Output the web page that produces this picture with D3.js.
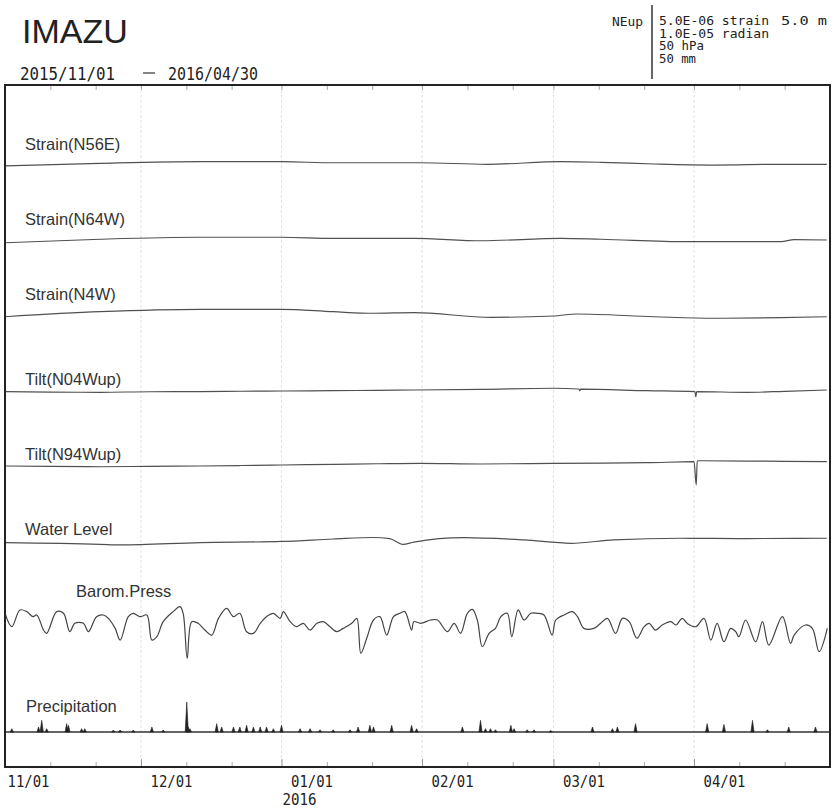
<!DOCTYPE html>
<html>
<head>
<meta charset="utf-8">
<script src="https://cdn.jsdelivr.net/npm/d3@7"></script>
<style>
  html, body { margin: 0; padding: 0; background: #fff; }
  svg { display: block; }
</style>
</head>
<body>
<div id="chart"></div>
<script>
// ---------------- DATA ----------------
// day offsets are days since 2015-11-01
const stationName = "IMAZU";
const periodStart = "2015/11/01";
const periodEnd = "2016/04/30";
const scaleLabels = ["5.0E-06 strain", "1.0E-05 radian", "50 hPa", "50 mm"];
const waterScaleLabel = "5.0 m";
const monthLabels = ["11/01", "12/01", "01/01", "02/01", "03/01", "04/01"];
const yearLabel = "2016";

// Strain, units of 1e-7 strain
const n56eDays = [0, 21.0, 43.0, 61.1, 72.4, 91.5, 106.3, 122.7, 131.5, 143.2, 156.4, 171.2, 181.3];
const n56eVals = [-2.6, -0.9, 0.2, 0.2, -0.5, -0.5, -1.5, 0.2, -0.2, -1.3, -2.0, -1.5, -1.5];

const n64wDays = [0, 21.0, 43.0, 61.1, 72.4, 90.2, 105.0, 122.7, 131.5, 150.5, 171.2, 174.1, 181.3];
const n64wVals = [-1.8, 0.5, 1.8, 1.8, 1.1, 1.1, -0.5, 1.1, 0.5, -1.1, -1.1, 0.2, 0.0];

const n4wDays = [0, 21.0, 43.0, 61.1, 72.4, 81.2, 90.2, 107.2, 121.1, 126.2, 143.2, 156.4, 171.2, 181.3];
const n4wVals = [-1.8, 1.5, 3.1, 3.1, 1.5, 0.5, 0.9, -2.2, -1.3, 0.0, -1.8, -2.8, -2.4, -1.8];

// Tilt, units of 1e-7 radian
const tilt04Days = [0, 10, 21.0, 32, 43.0, 52, 61.1, 72.4, 82, 90.2, 105.0, 121.1, 126.6, 126.8, 127.0, 141.6, 152.2, 152.4, 152.6, 163.7, 172, 181.3];
const tilt04Vals = [-0.9, -1.5, -1.7, -1.0, -0.9, -0.3, 0.0, 0.4, 0.9, 1.3, 2.2, 3.6, 2.6, 0.5, 2.4, 0.4, -0.9, -7.5, -0.9, -1.7, -0.4, 1.3];

const tilt94Days = [0, 10, 21.0, 32, 43.0, 52, 61.1, 72.4, 82, 91.5, 105.0, 121.1, 141.6, 152.0, 152.5, 152.7, 153.3, 163.7, 172, 181.3];
const tilt94Vals = [-2.6, -3.2, -3.6, -3.0, -2.6, -2.0, -1.3, -0.4, 0.3, 0.9, 0.0, 0.9, 1.7, 3.0, -27.6, 3.9, 4.3, 3.9, 3.4, 3.0];

// Water level, metres
const waterDays = [0, 21.0, 25.4, 43.0, 61.1, 72.4, 81.2, 84.9, 87.8, 90.2, 101.3, 114.5, 124.9, 134.3, 149.1, 163.7, 181.3];
const waterVals = [-0.11, -0.22, -0.26, -0.11, -0.03, 0.13, 0.23, 0.16, -0.22, -0.07, 0.22, 0.07, -0.15, 0.07, 0.18, 0.16, 0.18];

// Barometric pressure, hPa
const baromDays = [0, 1.5, 3.3, 4.8, 6.2, 7.0, 8.5, 9.2, 11.4, 12.9, 14.3, 15.4, 17.3, 18.4, 20.2, 21.7, 22.8, 24.3, 25.4, 27.2,
  28.3, 29.8, 31.3, 32.4, 33.5, 34.9, 37.1, 38.6, 39.3, 40.2, 41.2, 42.6, 44.1, 45.6, 47.1, 48.9, 50.4, 51.8, 53.3, 54.8,
  56.3, 57.7, 59.2, 60.7, 61.4, 62.9, 64.3, 65.8, 67.3, 68.8, 70.2, 71.7, 73.2, 74.6, 76.5, 77.6, 78.5, 79.8, 81.3, 82.7,
  84.2, 85.7, 87.1, 88.2, 89.7, 90.2, 91.7, 93.9, 95.4, 97.6, 99.1, 100.5, 102.0, 103.1, 104.2, 105.3, 106.8, 108.2, 109.4, 110.8,
  111.8, 113.2, 114.5, 116.0, 117.4, 118.9, 120.7, 121.5, 123.3, 125.2, 126.3, 127.7, 129.9, 131.4, 132.9, 134.7, 136.2, 137.7, 139.4, 141.0,
  142.1, 143.5, 145.0, 146.9, 148.0, 149.4, 150.5, 152.4, 154.2, 155.7, 157.1, 158.6, 160.1, 161.2, 161.9, 163.4, 165.6, 167.1, 168.5, 171.5,
  173.3, 174.1, 176.6, 178.1, 179.6, 181.4];
const baromVals = [1019.4, 1010.6, 1021.6, 1020.5, 1017.2, 1018.3, 1008.4, 1006.2, 1020.5, 1019.4, 1007.3, 1012.8, 1012.8, 1007.3, 1017.2, 1018.3, 1016.1, 1009.5, 1001.8, 1017.2,
  1019.4, 1017.2, 1018.3, 1001.8, 1004.0, 1013.9, 1020.5, 1023.8, 1019.4, 989.8, 1013.9, 1012.8, 1008.4, 1005.1, 1016.1, 1022.7, 1017.2, 1019.4, 1007.3, 1006.2,
  1012.8, 1017.2, 1019.4, 1016.1, 1020.5, 1013.9, 1010.6, 1012.8, 1008.4, 1012.8, 1013.9, 1010.6, 1007.3, 1009.5, 1012.8, 1016.1, 993.1, 1003.0, 1015.0, 1017.2,
  1005.1, 1017.2, 1019.4, 1020.5, 1008.4, 1013.9, 1012.8, 1015.0, 1015.0, 1007.3, 1012.8, 1006.2, 1019.4, 1022.0, 1015.0, 997.4, 1006.2, 1009.5, 1017.2, 1019.4,
  1004.0, 1021.6, 1015.0, 1019.4, 1019.4, 1018.3, 1005.1, 1015.0, 1018.3, 1020.5, 1017.2, 1009.5, 1009.5, 1012.8, 1016.1, 1006.2, 1016.1, 1013.9, 1003.0, 1010.6,
  1012.8, 1008.4, 1011.7, 1013.9, 1011.7, 1016.1, 1012.8, 1010.6, 1016.1, 1001.8, 1012.8, 1000.7, 1009.5, 1007.3, 1004.0, 1015.0, 1000.7, 1013.9, 998.5, 1017.2,
  999.6, 1005.1, 1011.7, 1009.5, 994.2, 1009.5];

// Precipitation, mm
const precipDays = [1.5, 7.4, 8.1, 9.2, 13.6, 14.0, 16.9, 17.6, 23.9, 25.4, 28.3, 32.4, 34.9, 40.1, 40.4, 40.8, 46.7, 47.8, 50.4, 51.8,
  53.3, 54.8, 56.3, 57.7, 59.2, 61.0, 65.1, 67.3, 69.5, 72.4, 76.1, 77.9, 80.5, 81.3, 85.3, 89.7, 90.8, 100.9, 104.9, 106.0,
  107.1, 108.2, 111.6, 112.3, 115.2, 116.7, 120.4, 129.6, 134.0, 135.1, 139.1, 154.9, 158.6, 164.9, 168.2, 172.9, 178.8];
const precipVals = [2.2, 3.3, 7.7, 2.2, 5.5, 4.4, 2.2, 2.2, 1.3, 1.3, 1.3, 3.3, 1.3, 19.7, 3.3, 2.2, 5.5, 3.3, 3.3, 3.3,
  4.4, 3.3, 3.3, 3.3, 2.2, 4.4, 2.2, 2.2, 1.5, 1.5, 1.5, 3.3, 4.4, 3.3, 4.4, 4.4, 2.2, 3.3, 7.7, 2.2,
  2.2, 1.5, 4.4, 2.2, 1.5, 1.5, 1.0, 3.3, 2.2, 3.3, 5.5, 5.5, 5.0, 7.7, 1.5, 3.3, 3.3];

// ---------------- LAYOUT ----------------
const W = 834, H = 808;
const frame = { x0: 5, x1: 830, y0: 85, y1: 767 };
const startDate = new Date(2015, 10, 1);
const endDate = new Date(2016, 4, 1);
const toDate = d => new Date(startDate.getTime() + d * 86400000);
const zip = (a, b) => a.map((d, i) => [d, b[i]]);

const tracks = [
  { label: "Strain(N56E)", data: zip(n56eDays, n56eVals), domain: [-25, 25], zeroY: 162, labelY: 150, labelX: 25 },
  { label: "Strain(N64W)", data: zip(n64wDays, n64wVals), domain: [-25, 25], zeroY: 240, labelY: 225, labelX: 25 },
  { label: "Strain(N4W)", data: zip(n4wDays, n4wVals), domain: [-25, 25], zeroY: 314, labelY: 300, labelX: 25 },
  { label: "Tilt(N04Wup)", data: zip(tilt04Days, tilt04Vals), domain: [-50, 50], zeroY: 391, labelY: 385, labelX: 25 },
  { label: "Tilt(N94Wup)", data: zip(tilt94Days, tilt94Vals), domain: [-50, 50], zeroY: 464, labelY: 460, labelX: 25 },
  { label: "Water Level", data: zip(waterDays, waterVals), domain: [-2.5, 2.5], zeroY: 541, labelY: 535, labelX: 25 }
];
const trackHalf = 38;

const svg = d3.select("#chart").append("svg").attr("width", W).attr("height", H)
  .style("font-family", "'Liberation Sans', Arial, sans-serif");

const x = d3.scaleTime().domain([startDate, endDate]).range([frame.x0, frame.x1]);

// month grid lines (faint)
const monthTicks = d3.timeMonth.range(startDate, d3.timeDay.offset(endDate, -1));
svg.append("g").selectAll("line").data(monthTicks.slice(1)).join("line")
  .attr("x1", d => x(d)).attr("x2", d => x(d))
  .attr("y1", frame.y0).attr("y2", frame.y1)
  .attr("stroke", "#e2e2e2").attr("stroke-width", 1).attr("stroke-dasharray", "3,2");

// minor ticks (11th, 21st)
const minorTicks = [];
monthTicks.forEach(m => { minorTicks.push(d3.timeDay.offset(m, 10)); minorTicks.push(d3.timeDay.offset(m, 20)); });

// bottom axis (ticks inward)
const axB = svg.append("g").attr("transform", `translate(0,${frame.y1})`)
  .call(d3.axisBottom(x).tickValues(monthTicks).tickFormat((d, i) => monthLabels[i])
    .tickSizeInner(-8).tickSizeOuter(0).tickPadding(8));
axB.select(".domain").remove();
axB.selectAll(".tick line").attr("stroke", "#999");
axB.selectAll(".tick text")
  .attr("text-anchor", "start").attr("dx", (d, i) => i === 0 ? 2 : 9)
  .attr("font-family", "'DejaVu Sans Mono', monospace").attr("font-size", 16.5)
  .attr("textLength", 42).attr("lengthAdjust", "spacingAndGlyphs")
  .attr("fill", "#222");

const axMinor = svg.append("g").attr("transform", `translate(0,${frame.y1})`)
  .call(d3.axisBottom(x).tickValues(minorTicks).tickFormat("").tickSizeInner(-5).tickSizeOuter(0));
axMinor.select(".domain").remove();
axMinor.selectAll(".tick line").attr("stroke", "#aaa");

const axTop = svg.append("g").attr("transform", `translate(0,${frame.y0})`)
  .call(d3.axisTop(x).tickValues(minorTicks.concat(monthTicks)).tickFormat("").tickSizeInner(-5).tickSizeOuter(0));
axTop.select(".domain").remove();
axTop.selectAll(".tick line").attr("stroke", "#aaa");

// year label
const jan = monthTicks[2];
svg.append("text").attr("x", x(jan) + 1).attr("y", 805)
  .attr("font-family", "'DejaVu Sans Mono', monospace").attr("font-size", 16.5)
  .attr("textLength", 34).attr("lengthAdjust", "spacingAndGlyphs")
  .attr("fill", "#222").text(yearLabel);

// tracks
tracks.forEach(t => {
  const y = d3.scaleLinear().domain(t.domain).range([t.zeroY + trackHalf, t.zeroY - trackHalf]);
  const line = d3.line().curve(d3.curveMonotoneX).x(d => x(toDate(d[0]))).y(d => y(d[1]));
  svg.append("path").datum(t.data).attr("d", line)
    .attr("fill", "none").attr("stroke", "#505050").attr("stroke-width", 1.2);
  svg.append("text").attr("x", t.labelX).attr("y", t.labelY)
    .attr("font-size", 16.5).attr("fill", "#333").text(t.label);
});

// barometric pressure
const yB = d3.scaleLinear().domain([990, 1040]).range([658, 582]);
svg.append("path").datum(zip(baromDays, baromVals))
  .attr("d", d3.line().curve(d3.curveCatmullRom.alpha(0.5)).x(d => x(toDate(d[0]))).y(d => yB(d[1])))
  .attr("fill", "none").attr("stroke", "#444").attr("stroke-width", 1.2);
svg.append("text").attr("x", 76).attr("y", 597).attr("font-size", 16.5).attr("fill", "#333").text("Barom.Press");

// precipitation
const yP = d3.scaleLinear().domain([0, 50]).range([732, 656]);
svg.append("line").attr("x1", frame.x0).attr("x2", frame.x1).attr("y1", yP(0)).attr("y2", yP(0))
  .attr("stroke", "#333").attr("stroke-width", 1.3);
svg.append("g").selectAll("path").data(zip(precipDays, precipVals)).join("path")
  .attr("d", d => {
    const px = x(toDate(d[0]));
    return `M${px - 1.6},${yP(0)}L${px},${yP(d[1])}L${px + 1.6},${yP(0)}Z`;
  })
  .attr("fill", "#222").attr("stroke", "#222").attr("stroke-width", 0.6);
svg.append("text").attr("x", 26).attr("y", 712).attr("font-size", 16.5).attr("fill", "#333").text("Precipitation");

// frame
svg.append("rect").attr("x", frame.x0).attr("y", frame.y0)
  .attr("width", frame.x1 - frame.x0).attr("height", frame.y1 - frame.y0)
  .attr("fill", "none").attr("stroke", "#222").attr("stroke-width", 2);

// header
svg.append("text").attr("x", 22).attr("y", 43).attr("font-size", 34).attr("fill", "#222").text(stationName);
const mono = "'DejaVu Sans Mono', monospace";
svg.append("text").attr("x", 20).attr("y", 80).attr("font-family", mono).attr("font-size", 18)
  .attr("textLength", 95).attr("lengthAdjust", "spacingAndGlyphs").attr("fill", "#222").text(periodStart);
svg.append("line").attr("x1", 143).attr("x2", 155).attr("y1", 73).attr("y2", 73).attr("stroke", "#333").attr("stroke-width", 1.2);
svg.append("text").attr("x", 168).attr("y", 80).attr("font-family", mono).attr("font-size", 18)
  .attr("textLength", 90).attr("lengthAdjust", "spacingAndGlyphs").attr("fill", "#222").text(periodEnd);

svg.append("text").attr("x", 612).attr("y", 26).attr("font-family", mono).attr("font-size", 12)
  .attr("textLength", 31).attr("lengthAdjust", "spacingAndGlyphs").attr("fill", "#222").text("NEup");
svg.append("line").attr("x1", 652).attr("x2", 652).attr("y1", 5).attr("y2", 79).attr("stroke", "#333").attr("stroke-width", 1.5);
const lineYs = [25, 37.5, 50, 62.5];
const lineLens = [110, 110, 45, 37];
scaleLabels.forEach((s, i) => {
  svg.append("text").attr("x", 659).attr("y", lineYs[i]).attr("font-family", mono).attr("font-size", 12)
    .attr("textLength", lineLens[i]).attr("lengthAdjust", "spacingAndGlyphs")
    .attr("fill", "#222").attr("xml:space", "preserve").text(s);
});
svg.append("text").attr("x", 781).attr("y", 25).attr("font-family", mono).attr("font-size", 12)
  .attr("textLength", 46).attr("lengthAdjust", "spacingAndGlyphs")
  .attr("fill", "#222").attr("xml:space", "preserve").text(waterScaleLabel);
</script>
</body>
</html>
